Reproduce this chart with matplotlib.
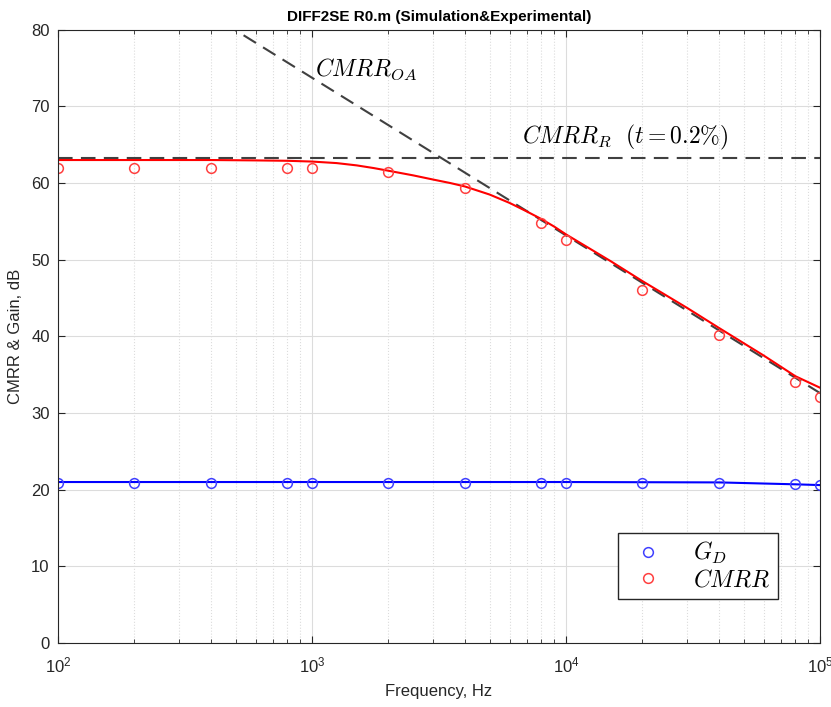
import numpy as np
import matplotlib as mpl
mpl.use('Agg')
import matplotlib.pyplot as plt

plt.rcParams['font.family'] = ['Liberation Sans', 'DejaVu Sans']
plt.rcParams['mathtext.fontset'] = 'cm'

##### measured points
f_meas = [100, 200, 400, 800, 1000, 2000, 4000, 8000, 10000, 20000, 40000, 80000, 100000]
gd_meas = [20.9, 20.9, 20.9, 20.9, 20.9, 20.9, 20.9, 20.9, 20.9, 20.9, 20.9, 20.7, 20.6]
cmrr_meas = [62.0, 62.0, 62.0, 62.0, 62.0, 61.4, 59.3, 54.8, 52.6, 46.1, 40.2, 34.1, 32.1]

##### simulated curves
f_sim = [100, 200, 400, 600, 800, 1000, 1250, 1500, 1750, 2000, 2500, 3000, 3500, 4000,
         5000, 6000, 7000, 8000, 9000, 10000, 15000, 20000, 30000, 40000, 60000, 80000, 100000]
cmrr_sim = [63.0, 63.0, 63.0, 62.95, 62.9, 62.8, 62.6, 62.3, 61.95, 61.6, 61.0, 60.45, 60.0, 59.55,
            58.5, 57.4, 56.3, 55.3, 54.3, 53.3, 49.8, 47.2, 43.7, 41.1, 37.5, 34.8, 33.3]
f_gd = [100, 1000, 10000, 40000, 80000, 100000]
gd_sim = [21.0, 21.0, 21.0, 20.95, 20.7, 20.6]

##### asymptotes
f_oa = [100, 100000]
cmrr_oa = [94.3, 32.6]
f_r = [100, 100000]
cmrr_r = [63.2, 63.2]

fig = plt.figure(figsize=(8.31, 7.07), dpi=100)
ax = fig.add_axes([0.0698, 0.0905, 0.917, 0.8675])

ax.plot(f_oa, cmrr_oa, '--', color='#404040', lw=1.5, dashes=(7, 4))
ax.plot(f_r, cmrr_r, '--', color='#404040', lw=1.5, dashes=(7, 4))
ax.plot(f_sim, cmrr_sim, '-', color='#ff0000', lw=1.5)
ax.plot(f_gd, gd_sim, '-', color='#0000ff', lw=1.5)
ax.plot(f_meas, gd_meas, 'o', mfc='none', mec='#4040ff', ms=7, mew=1.1, label='$G_D$')
ax.plot(f_meas, cmrr_meas, 'o', mfc='none', mec='#ff4040', ms=7, mew=1.1, label='$CMRR$')

ax.text(1030, 74.8, '$CMRR_{OA}$', fontsize=17, va='center', ha='left')
ax.text(6700, 64.0, r'$CMRR_R\ \ (t = 0.2\%)$', fontsize=17, va='bottom', ha='left')

ax.set_xscale('log')
ax.set_xlim(100, 100000)
ax.set_ylim(0, 80)
ax.set_yticks(np.arange(0, 81, 10))
ax.grid(True, which='major', color='#dcdcdc', lw=0.8, ls='-')
ax.grid(True, which='minor', color='#dcdcdc', lw=0.8, ls=':')
ax.set_axisbelow(True)
ax.tick_params(which='both', direction='in', top=True, right=True, colors='#262626', labelsize=12)
ax.tick_params(which='major', length=5)
ax.tick_params(which='minor', length=3)
ax.tick_params(axis='x', which='major', pad=9)
ax.tick_params(axis='y', which='major', pad=6)
for s in ax.spines.values():
    s.set_color('#262626')

ax.set_title('DIFF2SE R0.m (Simulation&Experimental)', fontsize=11, fontweight='bold', pad=6)
ax.set_xlabel('Frequency, Hz', fontsize=12, color='#262626', labelpad=6)
ax.set_ylabel('CMRR & Gain, dB', fontsize=12, color='#262626', labelpad=6)

leg = ax.legend(loc='lower right', bbox_to_anchor=(0.96, 0.053), fontsize=17, fancybox=False,
                framealpha=1, edgecolor='#262626', handletextpad=0.9, handlelength=2.0,
                borderpad=0.3, labelspacing=0.15)
leg.get_frame().set_linewidth(1.0)

plt.savefig('out.png', dpi=100)
plt.close()
